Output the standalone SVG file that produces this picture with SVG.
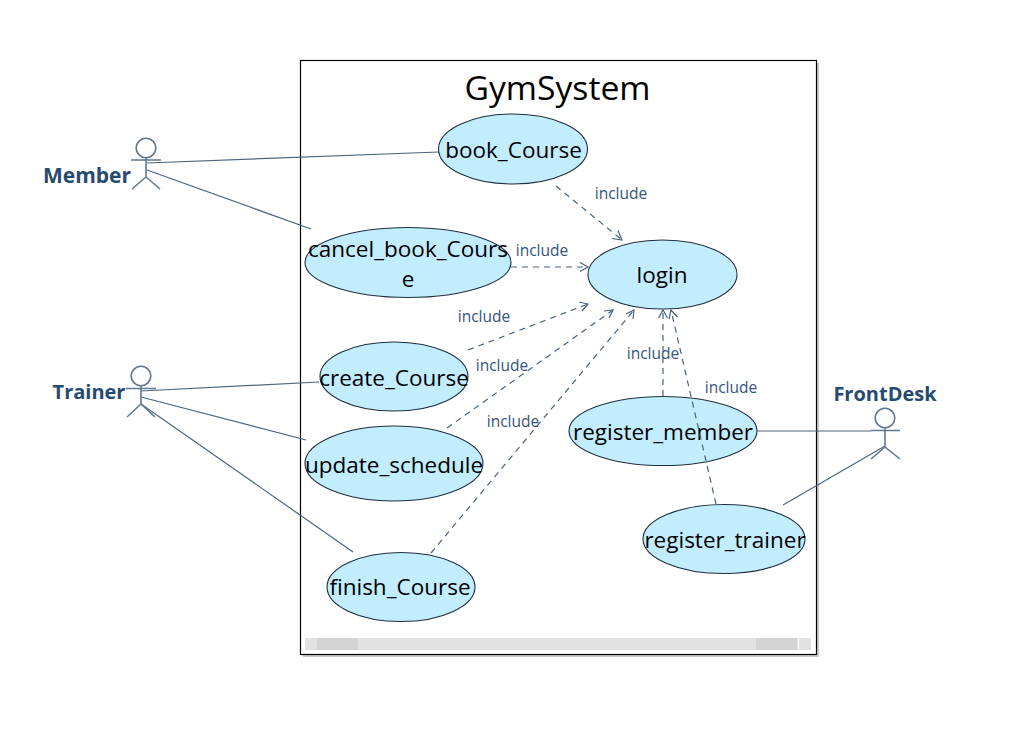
<svg xmlns="http://www.w3.org/2000/svg" width="1022" height="748" viewBox="0 0 1022 748">
<style>
text{font-family:"Open Sans","Noto Sans","Liberation Sans",sans-serif}
.uc{fill:#c1edff;stroke:#1f2f3f;stroke-width:1.1}
.ut{font-size:22.5px;fill:#000;text-anchor:middle}
.lab{font-size:15.500px;fill:#34557a;text-anchor:middle}
.act{font-size:20px;font-weight:700;fill:#274a70;text-anchor:middle}
.a{fill:none;stroke:#5f7791;stroke-width:1.6}
.c{fill:none;stroke:#4d657f;stroke-width:1.2}
.d{fill:none;stroke:#47627f;stroke-width:1.2;stroke-dasharray:6 5}
.h{fill:none;stroke:#47627f;stroke-width:1.2}
</style>
<rect width="1022" height="748" fill="#fff"/>
<g id="system">
<rect x="303" y="63" width="516" height="594" fill="#c8c8c8"/>
<rect x="300.5" y="60.5" width="516" height="594" fill="#fff" stroke="#000" stroke-width="1.2"/>
<rect x="305" y="638" width="506" height="12" fill="#e2e2e2"/>
<rect x="317" y="638" width="41" height="12" fill="#d4d4d4"/>
<rect x="756" y="638" width="41" height="12" fill="#d4d4d4"/>
<rect x="798" y="638" width="1" height="12" fill="#fff"/>
<text x="557.5" y="100" font-size="33.700" text-anchor="middle" fill="#000">GymSystem</text>
</g>
<g id="register_member"><ellipse class="uc" cx="663" cy="431" rx="94" ry="34.500"/><text class="ut" x="663" y="440">register_member</text></g>
<g id="connectors">
<path class="c" d="M147 163L439 152"/>
<path class="c" d="M147 170L311 229"/>
<path class="c" d="M141 391L319 382"/>
<path class="c" d="M141 397L306 440"/>
<path class="c" d="M141 404L353 552"/>
<path class="c" d="M757 431L871 431"/>
<path class="c" d="M885 446L783 505"/>
<path class="d" d="M556 186L622 240"/>
<path class="h" d="M612 238.500L622 240L618 230.500"/>
<path class="d" d="M511 267L588 267"/>
<path class="h" d="M580 262.500L588 267L580 271.500"/>
<path class="d" d="M468 350L588 304"/>
<path class="h" d="M579 302L588 304L582 311"/>
<path class="d" d="M447 428L613 310"/>
<path class="h" d="M604 311L613 310L609 318"/>
<path class="d" d="M431 553L634 310"/>
<path class="h" d="M626 314L634 310L633 319"/>
<path class="d" d="M663 396L663 310"/>
<path class="h" d="M658.500 318L663 310L667.500 318"/>
<path class="d" d="M716 504L671 310"/>
<path class="h" d="M669 319L671 310L677.500 317"/>
</g>
<g id="book_Course"><ellipse class="uc" cx="513" cy="149" rx="74.500" ry="35"/><text class="ut" x="513.500" y="158">book_Course</text></g>
<g id="cancel_book_Course"><ellipse class="uc" cx="408" cy="262.500" rx="103" ry="35"/><text class="ut" x="408" y="257">cancel_book_Cours</text><text class="ut" x="408" y="287">e</text></g>
<g id="login"><ellipse class="uc" cx="662.500" cy="274.500" rx="74.500" ry="34.500"/><text class="ut" x="662" y="283">login</text></g>
<g id="create_Course"><ellipse class="uc" cx="394" cy="376.500" rx="74" ry="34.500"/><text class="ut" x="394" y="386">create_Course</text></g>
<g id="update_schedule"><ellipse class="uc" cx="394" cy="463.500" rx="89" ry="37.500"/><text class="ut" x="394" y="473">update_schedule</text></g>
<g id="register_trainer"><ellipse class="uc" cx="724" cy="539" rx="81" ry="34.500"/><text class="ut" x="725" y="548">register_trainer</text></g>
<g id="finish_Course"><ellipse class="uc" cx="401" cy="587" rx="74" ry="34.500"/><text class="ut" x="400" y="595">finish_Course</text></g>
<g id="labels">
<text class="lab" x="621" y="199">include</text>
<text class="lab" x="542" y="256">include</text>
<text class="lab" x="484" y="322">include</text>
<text class="lab" x="502" y="371">include</text>
<text class="lab" x="513" y="427">include</text>
<text class="lab" x="653" y="359">include</text>
<text class="lab" x="731" y="393">include</text>
</g>
<g id="Member"><circle class="a" cx="146" cy="148" r="9.800"/><path class="a" d="M131 160H161M146 158V177L132 189M146 177L160 189"/><text class="act" x="87" y="183" style="font-size:21px">Member</text></g>
<g id="Trainer"><circle class="a" cx="141" cy="376" r="9.800"/><path class="a" d="M126 388.500H156M141 386V404L127 417M141 404L155 417"/><text class="act" x="89" y="399">Trainer</text></g>
<g id="FrontDesk"><circle class="a" cx="885" cy="418" r="9.800"/><path class="a" d="M871 430.500H900M885 428V447L871 459M885 447L900 459"/><text class="act" x="885" y="401">FrontDesk</text></g>
</svg>
